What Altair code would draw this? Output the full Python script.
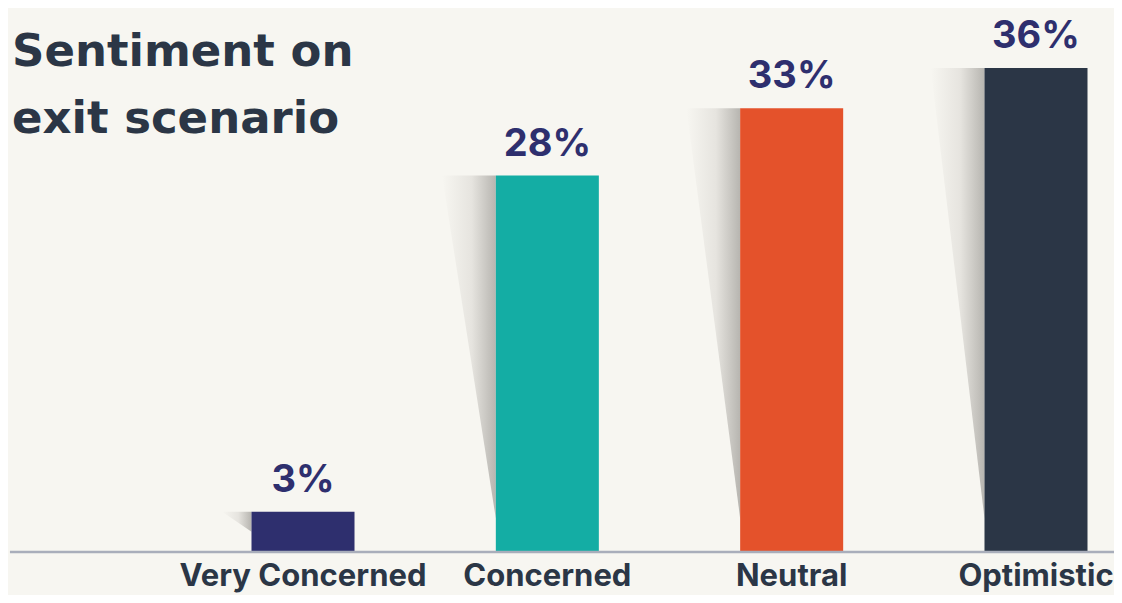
import altair as alt
import pandas as pd

# ---- data ----
categories = ["Very Concerned", "Concerned", "Neutral", "Optimistic"]
values = [3, 28, 33, 36]
palette = ["#2e2f6e", "#14ada4", "#e4522b", "#2b3646"]
title_lines = ["Sentiment on", "exit scenario"]

# ---- layout ----
W, H = 1106, 587
K = 484 / 36.0                     # px per percentage point
BASE_PX = 544                      # baseline position inside the chart
X_DOM = [-295 / 244.33, 3 + (W - 1028) / 244.33]
Y_DOM = [-(H - BASE_PX) / K, (BASE_PX) / K]
HALF = 0.2108
FONT = "Inter"
TITLE_FONT = "DejaVu Sans"
BG = "#f7f6f1"

df = pd.DataFrame({"cat": categories, "val": values, "idx": list(range(len(categories)))})
df["x0"] = df["idx"] - HALF
df["x1"] = df["idx"] + HALF
df["zero"] = 0
df["label"] = df["val"].astype(str) + "%"

rows = []
for c, v, i in zip(categories, values, range(len(categories))):
    left = i - HALF
    w = min(0.22, 0.04 * v)
    tip = min(2.5, 0.5 * v)
    rows.append({"cat": c, "y": v, "xa": left - w, "xb": left})
    rows.append({"cat": c, "y": tip, "xa": left, "xb": left})
shadow_df = pd.DataFrame(rows)

xs = alt.Scale(domain=X_DOM, nice=False, zero=False)
ys = alt.Scale(domain=Y_DOM, nice=False, zero=False)

shadow = alt.Chart(shadow_df).mark_area(
    orient="horizontal",
    color=alt.Gradient(
        gradient="linear",
        stops=[
            alt.GradientStop(offset=0, color=BG),
            alt.GradientStop(offset=0.55, color="#e6e4df"),
            alt.GradientStop(offset=1, color="#b7b5b0"),
        ],
        x1=0, x2=1, y1=0, y2=0,
    ),
).encode(
    y=alt.Y("y:Q", scale=ys, axis=None),
    x=alt.X("xa:Q", scale=xs, axis=None),
    x2="xb:Q",
    detail="cat:N",
)

bars = alt.Chart(df).mark_bar().encode(
    x=alt.X("x0:Q", scale=xs, axis=None),
    x2="x1:Q",
    y=alt.Y("val:Q", scale=ys, axis=None),
    y2="zero:Q",
    color=alt.Color("cat:N", scale=alt.Scale(domain=categories, range=palette), legend=None),
)

rule_df = pd.DataFrame({"x": [X_DOM[0] + 0.008], "x2": [X_DOM[1]], "y": [0]})
baseline = alt.Chart(rule_df).mark_rule(color="#a9aebb", strokeWidth=2.5).encode(
    x=alt.X("x:Q", scale=xs, axis=None),
    x2="x2:Q",
    y=alt.Y("y:Q", scale=ys, axis=None),
)

pct = alt.Chart(df).mark_text(
    font=FONT, fontSize=38, fontWeight="bold", color="#2e2f6e",
    baseline="alphabetic", align="center", dy=-20,
).encode(
    x=alt.X("idx:Q", scale=xs, axis=None),
    y=alt.Y("val:Q", scale=ys, axis=None),
    text="label:N",
)

cats = alt.Chart(df).mark_text(
    font=FONT, fontSize=31, fontWeight="bold", color="#2b3646",
    baseline="alphabetic", align="center", dy=34,
).encode(
    x=alt.X("idx:Q", scale=xs, axis=None),
    y=alt.Y("zero:Q", scale=ys, axis=None),
    text="cat:N",
)

title = alt.Chart(pd.DataFrame({"t": [0]})).mark_text(
    text=title_lines, font=TITLE_FONT, fontSize=45, fontWeight="bold", color="#2b3646",
    align="left", baseline="alphabetic", lineHeight=67,
).encode(x=alt.value(4), y=alt.value(58))

chart = alt.layer(shadow, bars, baseline, pct, cats, title).properties(
    width=W, height=H, background=BG, padding=0,
    autosize=alt.AutoSizeParams(type="none"),
).configure_view(stroke=None)

chart.save("out.html", embed_options={"renderer": "svg", "actions": False})
